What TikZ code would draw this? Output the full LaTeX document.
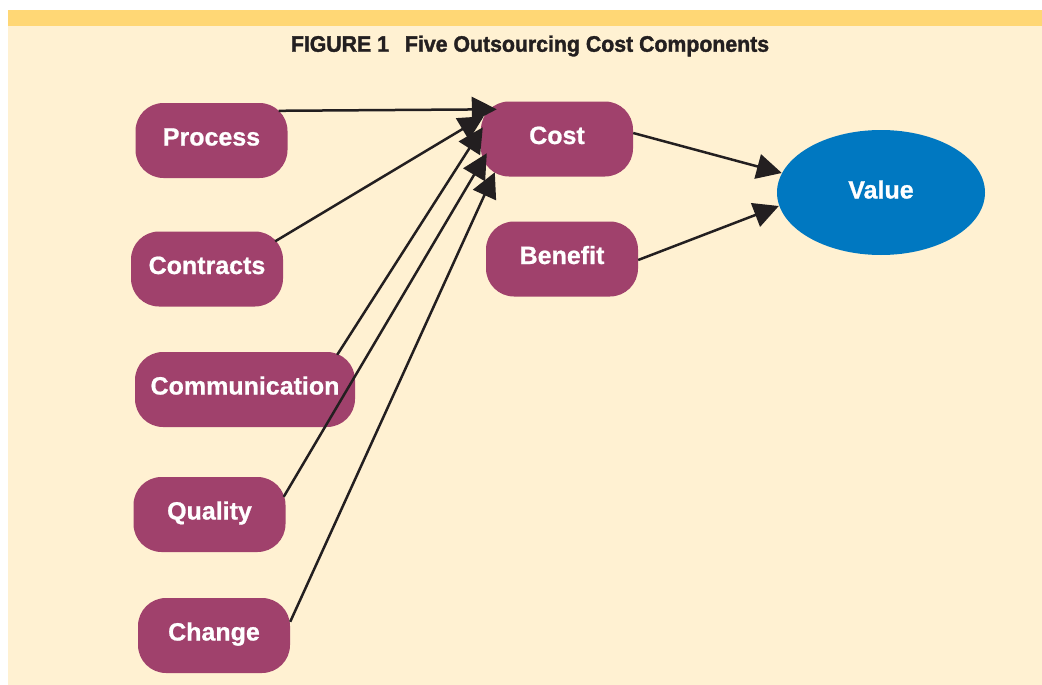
\documentclass[tikz,border=0pt]{standalone}
\usepackage{fontspec}
\setmainfont{Liberation Sans}
\newfontfamily\titlefont[FakeStretch=0.95,FakeBold=1.6]{Liberation Sans}
\newfontfamily\boxfont[FakeBold=0.8]{Liberation Sans}
\usepackage{xcolor}
\usepackage{tikz}
\usetikzlibrary{arrows.meta,positioning,shapes.geometric}

\definecolor{cream}{HTML}{FFF1D2}
\definecolor{bargold}{HTML}{FFD775}
\definecolor{plum}{HTML}{A0416C}
\definecolor{valblue}{HTML}{0078C1}
\definecolor{ink}{HTML}{231F20}

\begin{document}
\begin{tikzpicture}[
  x=1pt, y=-1pt,
  comp/.style={fill=plum, rounded corners=28pt, text=white, align=center,
    font=\boxfont\fontsize{25}{28}\selectfont\bfseries, text height=18pt, text depth=8pt,
    minimum width=152pt, minimum height=75pt, inner sep=0pt},
  res/.style={ellipse, fill=valblue, text=white, minimum width=208pt, minimum height=125pt,
    font=\boxfont\fontsize{25}{28}\selectfont\bfseries, text height=18pt, text depth=6pt, inner sep=0pt},
  arr/.style={-{Triangle[length=25pt,width=25pt]}, line width=2.5pt, ink}]
% frame and title
\useasboundingbox (0,0) rectangle (1042,685);
\fill[cream] (8,10) rectangle (1042,685);
\fill[bargold] (8,10) rectangle (1042,26);
\node[font=\titlefont\fontsize{22.4}{26}\selectfont\bfseries, text=ink] (title) at (530,46)
  {FIGURE 1\hspace{0.45em} Five Outsourcing Cost Components};
% cost components
\node[comp] (process) at (211.5,140.5) {Process};
\node[comp] (contracts) at (207,269) {Contracts};
\node[comp, minimum width=220pt] (comm) at (245,389.5) {Communication};
\node[comp] (quality) at (209.5,514.5) {Quality};
\node[comp] (change) at (214,635.5) {Change};
\node[comp] (cost) at (557,139) {Cost};
\node[comp] (benefit) at (562,259) {Benefit};
\node[res] (value) at (881,192.5) {Value};
% arrows into cost
\draw[arr] ([shift={(-9,8)}]process.north east) -- ([shift={(16,8)}]cost.north west);
\draw[arr] ([shift={(-8,10)}]contracts.north east) -- ([shift={(3,15)}]cost.north west);
\draw[arr] ([shift={(-18,3)}]comm.north east) -- ([shift={(2,26)}]cost.north west);
\draw[arr] ([shift={(-2,20)}]quality.north east) -- ([shift={(6,52)}]cost.north west);
\draw[arr] ([shift={(0,24)}]change.north east) -- ([shift={(14,71)}]cost.north west);
% cost and benefit into value
\draw[arr] ([shift={(0,-6)}]cost.east) -- ([shift={(5,-19.5)}]value.west);
\draw[arr] ([shift={(0,1)}]benefit.east) -- ([shift={(2,13.5)}]value.west);
\end{tikzpicture}
\end{document}
